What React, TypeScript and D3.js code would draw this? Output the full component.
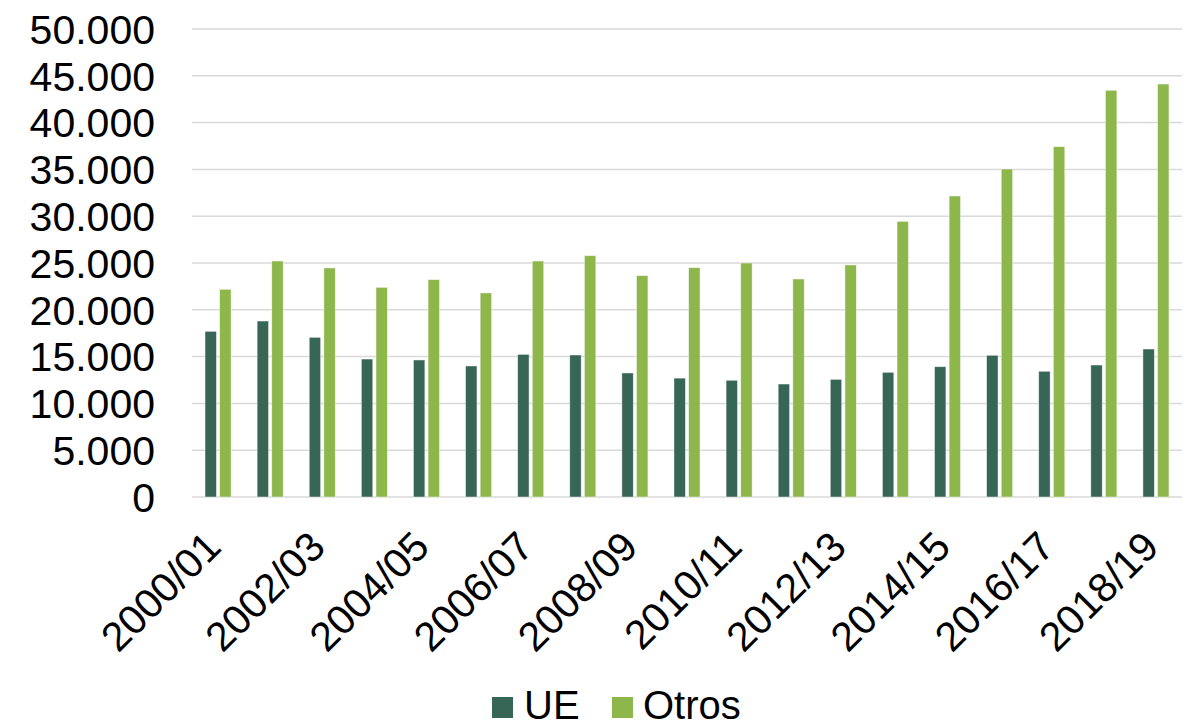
import * as d3 from "d3";
import React from "react";

const years = [
  "2000/01", "2001/02", "2002/03", "2003/04", "2004/05", "2005/06", "2006/07",
  "2007/08", "2008/09", "2009/10", "2010/11", "2011/12", "2012/13", "2013/14",
  "2014/15", "2015/16", "2016/17", "2017/18", "2018/19",
];
const ue = [
  17700, 18800, 17060, 14740, 14640, 14000, 15240, 15170, 13250, 12700,
  12470, 12070, 12570, 13320, 13920, 15140, 13430, 14100, 15810,
];
const otros = [
  22190, 25210, 24470, 22400, 23220, 21800, 25210, 25780, 23650, 24500,
  25000, 23290, 24790, 29450, 32160, 35040, 37430, 43450, 44120,
];
const series = [
  { name: "UE", values: ue, color: "#376656" },
  { name: "Otros", values: otros, color: "#8db64b" },
];
const yTicks = [0, 5000, 10000, 15000, 20000, 25000, 30000, 35000, 40000, 45000, 50000];

const W = 1191;
const H = 726;
const left = 192, right = 1182, top = 29, bottom = 497;
const font = "'Liberation Sans', Arial, sans-serif";

export default function App() {
  const x = d3.scaleBand<string>().domain(years).range([left, right]);
  const inner = d3.scaleBand<string>()
    .domain(series.map(s => s.name))
    .range([0, x.bandwidth() * 0.5])
    .paddingInner(0.22);
  const y = d3.scaleLinear().domain([0, 50000]).range([bottom, top]);
  const fmt = (v: number) => d3.format(",")(v).replace(/,/g, ".");

  return (
    <svg width={W} height={H} style={{ position: "absolute", left: 0, top: 0, background: "#fff" }}
      fontFamily={font}>
      {yTicks.map(t => (
        <g key={t}>
          <line x1={left} x2={right} y1={y(t)} y2={y(t)} stroke="#d9d9d9" strokeWidth={1.5} />
          <text x={155} y={y(t)} dy="0.36em" textAnchor="end" fontSize={41} fill="#000">{fmt(t)}</text>
        </g>
      ))}
      {series.map(s => (
        <g key={s.name}>
          {s.values.map((v, i) => (
            <rect key={i}
              x={x(years[i])! + x.bandwidth() * 0.25 + inner(s.name)!}
              y={y(v)}
              width={inner.bandwidth()}
              height={y(0) - y(v)}
              fill={s.color}
              stroke="#fff" strokeOpacity={0.6} strokeWidth={0.75} />
          ))}
        </g>
      ))}
      {years.map((yr, i) => i % 2 === 0 ? (
        <text key={yr}
          transform={`translate(${x(yr)! + x.bandwidth() / 2 + 5},549) rotate(-45)`}
          textAnchor="end" fontSize={41} fill="#000">{yr}</text>
      ) : null)}
      <g>
        <rect x={492} y={697} width={21} height={21} fill={series[0].color} />
        <text x={524} y={719} fontSize={40} fill="#000">UE</text>
        <rect x={612} y={697} width={21} height={21} fill={series[1].color} />
        <text x={643} y={719} fontSize={40} fill="#000">Otros</text>
      </g>
    </svg>
  );
}
